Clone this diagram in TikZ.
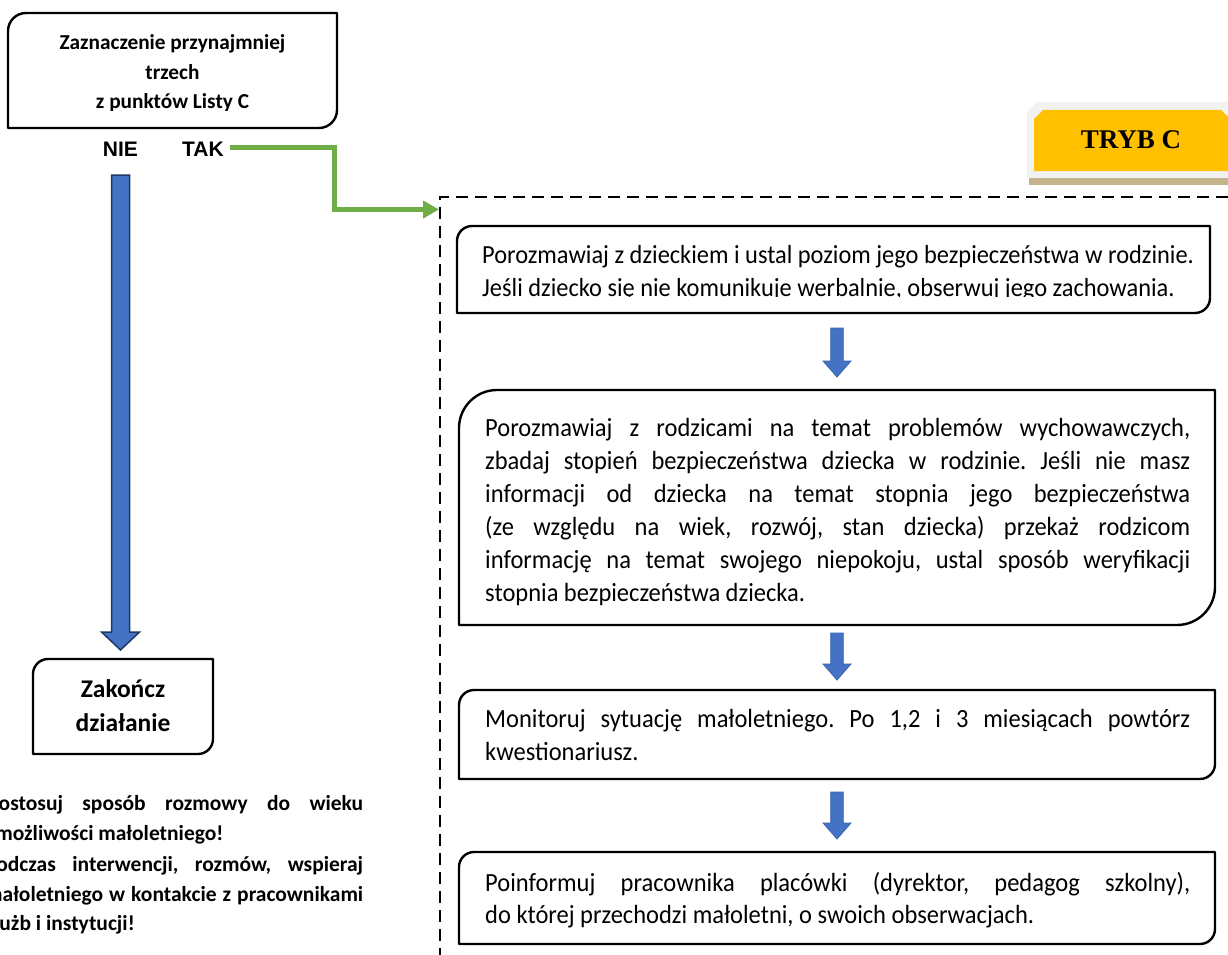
\documentclass[tikz,border=0pt]{standalone}
\usepackage{graphicx}
\usepackage{fontspec}
\setmainfont{Carlito}
\newfontfamily\labelfont{Liberation Sans}
\newfontfamily\badgefont{Liberation Serif}
\usetikzlibrary{arrows.meta,calc}
\definecolor{arrowblue}{HTML}{4472C4}
\definecolor{arrowedge}{HTML}{1F3864}
\definecolor{smalledge}{HTML}{3A64AE}
\definecolor{flowgreen}{HTML}{70AD47}
\definecolor{badgegold}{HTML}{FFC000}
\definecolor{badgegray}{HTML}{F2F2F2}
\definecolor{badgetan}{HTML}{C4B48C}

\newcommand\cornerbox[3]{%
  \draw[#3] (#1.south west) -- ([yshift=-#2pt]#1.north west)
    .. controls ([yshift=-0.448*#2pt]#1.north west) and ([xshift=0.448*#2pt]#1.north west) .. ([xshift=#2pt]#1.north west)
    -- (#1.north east) -- ([yshift=#2pt]#1.south east)
    .. controls ([yshift=0.448*#2pt]#1.south east) and ([xshift=-0.448*#2pt]#1.south east) .. ([xshift=-#2pt]#1.south east)
    -- cycle;}

\newcommand\blockarrow[6]{%
  \draw[#1] ($(#2)+(-#4,0)$) -- ($(#2)+(#4,0)$) -- ($(#3)+(#4,-#6)$) -- ($(#3)+(#5,-#6)$) -- (#3)
    -- ($(#3)+(-#5,-#6)$) -- ($(#3)+(-#4,-#6)$) -- cycle;}

\newcommand\talltext[1]{\scalebox{1}[1.07]{#1}}
\newcommand\jline[2]{\talltext{\makebox[#1][s]{#2}}}

\begin{document}
\frenchspacing
\begin{tikzpicture}[x=1pt,y=-1pt,
  boxslot/.style={draw=none,inner sep=0pt,outer sep=0pt},
  boxline/.style={draw=black,line width=2.4pt,line join=round},
  boldtxt/.style={anchor=base,inner sep=0pt,font=\fontsize{21.3}{21.3}\selectfont\bfseries},
  zaktxt/.style={anchor=base,inner sep=0pt,font=\fontsize{25.5}{25.5}\selectfont\bfseries},
  notetxt/.style={anchor=base west,inner sep=0pt,font=\fontsize{21.5}{21.5}\selectfont\bfseries},
  bodytxt/.style={anchor=base west,inner sep=0pt,font=\fontsize{24.5}{24.5}\selectfont},
  yesno/.style={anchor=base,inner sep=0pt,font=\labelfont\bfseries\fontsize{21}{21}\selectfont},
  badge/.style={anchor=base,inner sep=0pt,font=\badgefont\bfseries\fontsize{27}{27}\selectfont},
  flow/.style={draw=flowgreen,line width=5pt,-{Triangle[length=16pt,width=17pt]}},
  bigarrow/.style={fill=arrowblue,draw=arrowedge,line width=1.5pt,line join=miter},
  smallarrow/.style={fill=arrowblue,draw=smalledge,line width=0.8pt,line join=miter},
  dashframe/.style={draw=black,line width=2pt,dash pattern=on 12pt off 7pt}
]
\useasboundingbox (0,0) rectangle (1228,955);

% ---------- left column ----------
\node[boxslot,minimum width=329pt,minimum height=115pt] (q0) at (172.5,70.5) {};
\cornerbox{q0}{18}{boxline}
\node[boldtxt] (q0a) at (172.5,50) {Zaznaczenie przynajmniej};
\node[boldtxt] (q0b) at (172.5,80) {trzech};
\begin{scope}
  \clip (20,88) rectangle (325,110.5);
  \node[boldtxt] (q0c) at (172.5,109) {z punktów Listy C};
\end{scope}

\node[yesno] (nie) at (120.5,156) {NIE};
\node[yesno] (tak) at (203,156) {TAK};

\node[boxslot,minimum width=180pt,minimum height=95pt] (zak) at (123,706.5) {};
\cornerbox{zak}{15}{boxline}
\node[zaktxt] (zak1) at (123,697) {Zakończ};
\node[zaktxt] (zak2) at (123,731) {działanie};

\coordinate (bigs) at ($(nie.south)+(0,19)$);
\coordinate (bige) at ($(nie.south |- zak.north)+(0,-9)$);
\blockarrow{bigarrow}{bigs}{bige}{9}{19}{18}

\node[notetxt] (n1) at (-15,810) {\makebox[378pt][s]{Dostosuj sposób rozmowy do wieku}};
\node[notetxt] (n2) at (-15,840) {i możliwości małoletniego!};
\node[notetxt] (n3) at (-15,871) {\makebox[378pt][s]{Podczas interwencji, rozmów, wspieraj}};
\node[notetxt] (n4) at (-15,901) {\makebox[378pt][s]{małoletniego w kontakcie z pracownikami}};
\node[notetxt] (n5) at (-15,930) {służb i instytucji!};

% ---------- badge ----------
\fill[badgegray] (1027,112) -- (1037,102) -- (1228,102) -- (1228,178) -- (1027,178) -- cycle;
\fill[badgetan] (1029,178) rectangle (1228,185);
\fill[badgegold] (1034,119) -- (1043,110) -- (1221,110) -- (1228,117) -- (1228,171) -- (1034,171) -- cycle;
\node[badge] (tryb) at (1131,149) {TRYB C};

% ---------- dashed frame ----------
\coordinate (dtr) at (1228,197);
\coordinate (dtl) at (440,197);
\coordinate (dbl) at (440,955);
\draw[dashframe] (dtr) -- (dtl) -- (dbl);

\coordinate (gin) at (439,209.5);
\draw[flow] ([xshift=6pt,yshift=1pt]tak.east) -| ($(gin)+(-105,0)$) -- (gin);

% ---------- right column ----------
\node[boxslot,minimum width=753pt,minimum height=87pt] (q1) at (833.5,269.5) {};
\cornerbox{q1}{15}{boxline}
\node[bodytxt,font=\fontsize{24.4}{24.4}\selectfont] (q1a) at (482,263) {\talltext{Porozmawiaj z dzieckiem i ustal poziom jego bezpieczeństwa w rodzinie.}};
\begin{scope}
  \clip (470,275) rectangle (1205,296.8);
  \node[bodytxt,font=\fontsize{24.4}{24.4}\selectfont] (q1b) at (482,296) {\talltext{Jeśli dziecko się nie komunikuje werbalnie, obserwuj jego zachowania.}};
\end{scope}

\node[boxslot,minimum width=756pt,minimum height=235pt] (q2) at (837,507.5) {};
\cornerbox{q2}{38}{boxline}
\begin{scope}[every node/.append style={font=\fontsize{25.3}{25.3}\selectfont}]
\node[bodytxt] (q2a) at (485,436) {\jline{705pt}{Porozmawiaj z rodzicami na temat problemów wychowawczych,}};
\node[bodytxt] (q2b) at (485,469) {\jline{705pt}{zbadaj stopień bezpieczeństwa dziecka w rodzinie. Jeśli nie masz}};
\node[bodytxt] (q2c) at (485,502) {\jline{705pt}{informacji od dziecka na temat stopnia jego bezpieczeństwa}};
\node[bodytxt] (q2d) at (485,535) {\jline{705pt}{(ze względu na wiek, rozwój, stan dziecka) przekaż rodzicom}};
\node[bodytxt] (q2e) at (485,568) {\jline{705pt}{informację na temat swojego niepokoju, ustal sposób weryfikacji}};
\node[bodytxt] (q2f) at (485,601) {\talltext{stopnia bezpieczeństwa dziecka.}};
\end{scope}

\node[boxslot,minimum width=756pt,minimum height=89pt] (q3) at (837,734.5) {};
\cornerbox{q3}{15}{boxline}
\node[bodytxt] (q3a) at (485,727) {\jline{705pt}{Monitoruj sytuację małoletniego. Po 1,2 i 3 miesiącach powtórz}};
\node[bodytxt] (q3b) at (485,760) {\talltext{kwestionariusz.}};

\node[boxslot,minimum width=756pt,minimum height=92pt] (q4) at (837,898) {};
\cornerbox{q4}{15}{boxline}
\node[bodytxt] (q4a) at (485,891) {\jline{705pt}{Poinformuj pracownika placówki (dyrektor, pedagog szkolny),}};
\node[bodytxt] (q4b) at (485,923) {\talltext{do której przechodzi małoletni, o swoich obserwacjach.}};

% small arrows
\coordinate (s1s) at ($(q2.north |- q1.south)+(0,15)$);
\coordinate (s1e) at ($(q2.north)+(0,-13)$);
\blockarrow{smallarrow}{s1s}{s1e}{6.3}{14}{16}
\coordinate (s2s) at ($(q2.south)+(0,8)$);
\coordinate (s2e) at ($(q3.north)+(0,-10)$);
\blockarrow{smallarrow}{s2s}{s2e}{6.3}{14}{16}
\coordinate (s3s) at ($(q3.south)+(0,13)$);
\coordinate (s3e) at ($(q4.north)+(0,-13)$);
\blockarrow{smallarrow}{s3s}{s3e}{6.3}{14}{16}
\end{tikzpicture}
\end{document}
